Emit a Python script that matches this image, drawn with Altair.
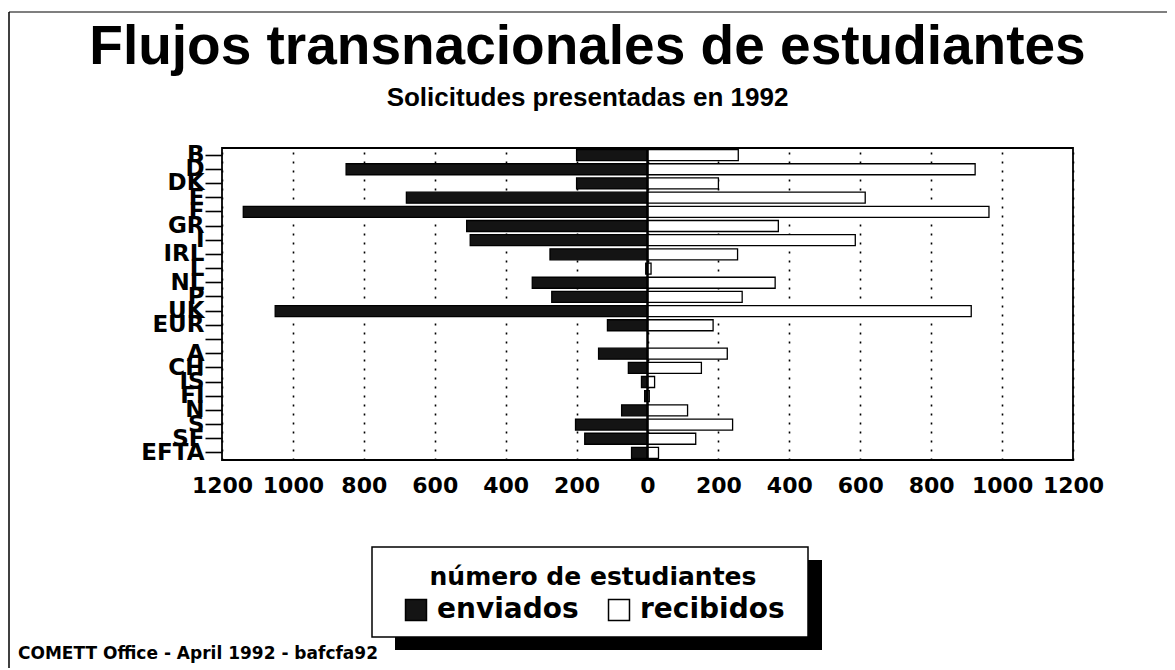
import altair as alt
import pandas as pd

# ---- data ----
row_order = ["B", "D", "DK", "E", "F", "GR", "I", "IRL", "L", "NL", "P", "UK", "EUR", " ",
             "A", "CH", "IS", "FI", "N", "S", "SF", "EFTA"]
countries = ["B", "D", "DK", "E", "F", "GR", "I", "IRL", "L", "NL", "P", "UK", "EUR",
             "A", "CH", "IS", "FI", "N", "S", "SF", "EFTA"]
enviados = [200, 850, 200, 680, 1140, 510, 500, 275, 5, 325, 270, 1050, 113,
            138, 54, 17, 8, 73, 203, 177, 45]
recibidos = [256, 924, 200, 614, 963, 369, 586, 254, 10, 360, 267, 913, 185,
             225, 152, 20, 5, 113, 240, 136, 31]
series = ["enviados", "recibidos"]
x_ticks = [-1200, -1000, -800, -600, -400, -200, 0, 200, 400, 600, 800, 1000, 1200]

title_text = "Flujos transnacionales de estudiantes"
subtitle_text = "Solicitudes presentadas en 1992"
legend_title = "número de estudiantes"
footer_text = "COMETT Office - April 1992 - bafcfa92"

rows = []
for c, s, r in zip(countries, enviados, recibidos):
    rows.append({"pais": c, "tipo": "enviados", "valor": -s})
    rows.append({"pais": c, "tipo": "recibidos", "valor": r})
df = pd.DataFrame(rows)
one = pd.DataFrame({"k": [0]})
foot = pd.DataFrame({"t": [footer_text]})

W, H = 851, 312

bars = alt.Chart(df).mark_bar(size=11, stroke="black", strokeWidth=1.3).encode(
    x=alt.X("valor:Q",
            scale=alt.Scale(domain=[-1200, 1200], nice=False, zero=False),
            axis=alt.Axis(values=x_ticks, title=None, ticks=False, domain=False,
                          labelExpr="format(abs(datum.value), 'd')",
                          labelFont="DejaVu Sans", labelFontWeight="bold",
                          labelFontSize=22, labelColor="black", labelPadding=15,
                          labelOverlap=False, labelFlush=False,
                          grid=True, gridColor="black", gridDash=[2, 7],
                          gridWidth=1.6, gridOpacity=1)),
    y=alt.Y("pais:N",
            scale=alt.Scale(domain=row_order, paddingInner=0, paddingOuter=0),
            axis=alt.Axis(title=None, domain=False, ticks=True, tickSize=17,
                          tickColor="black", tickWidth=1.6,
                          labelFont="DejaVu Sans", labelFontWeight="bold",
                          labelFontSize=23, labelColor="black", labelPadding=1,
                          labelOverlap=False, labelBound=False)),
    fill=alt.Fill("tipo:N",
                  scale=alt.Scale(domain=series, range=["#141414", "white"]),
                  legend=alt.Legend(title=legend_title, orient="none",
                                    legendX=180, legendY=417,
                                    direction="horizontal", columns=2,
                                    titleFont="DejaVu Sans", titleFontWeight="bold",
                                    titleFontSize=25, titleColor="black",
                                    titleAnchor="middle", titlePadding=6,
                                    titleLimit=0, labelLimit=0,
                                    labelFont="DejaVu Sans", labelFontWeight="bold",
                                    labelFontSize=28, labelColor="black",
                                    labelOffset=7, columnPadding=26,
                                    symbolType="square", symbolSize=440,
                                    symbolStrokeColor="black", symbolStrokeWidth=1.5,
                                    padding=0)),
)

zero = alt.Chart(one).mark_rule(color="black", strokeWidth=2.5).encode(
    x=alt.X(datum=0), y=alt.value(0), y2=alt.value(H))

shadow = alt.Chart(one).mark_rect(color="black").encode(
    x=alt.value(173), x2=alt.value(600), y=alt.value(412), y2=alt.value(502))
box = alt.Chart(one).mark_rect(fill="white", stroke="black", strokeWidth=1.5).encode(
    x=alt.value(150), x2=alt.value(586), y=alt.value(399), y2=alt.value(489))

footer = alt.Chart(foot).mark_text(align="left", baseline="alphabetic",
                                   font="DejaVu Sans", fontWeight="bold",
                                   fontSize=17, color="black").encode(
    text="t:N", x=alt.value(-204), y=alt.value(511))

frame_top = alt.Chart(one).mark_rule(color="#555", strokeWidth=1.5).encode(
    x=alt.value(-213), x2=alt.value(945), y=alt.value(-136))
frame_left = alt.Chart(one).mark_rule(color="black", strokeWidth=1.5).encode(
    x=alt.value(-213), y=alt.value(-136), y2=alt.value(520))

chart = alt.layer(bars, zero, shadow, box, footer, frame_top, frame_left).properties(
    width=W, height=H,
    background="white",
    padding={"left": 214, "top": 140, "right": 94, "bottom": 208},
    autosize=alt.AutoSizeParams(type="none"),
    title=alt.TitleParams(text=title_text, subtitle=subtitle_text,
                          anchor="middle", frame="group", dx=-60, offset=-101,
                          font="Liberation Sans", fontWeight="bold", fontSize=55,
                          color="black", subtitleFont="Liberation Sans",
                          subtitleFontWeight="bold", subtitleFontSize=26,
                          subtitleColor="black", subtitlePadding=9),
).configure_view(stroke="black", strokeWidth=1.8)

chart.save("out.html", embed_options={"renderer": "svg", "actions": False})
